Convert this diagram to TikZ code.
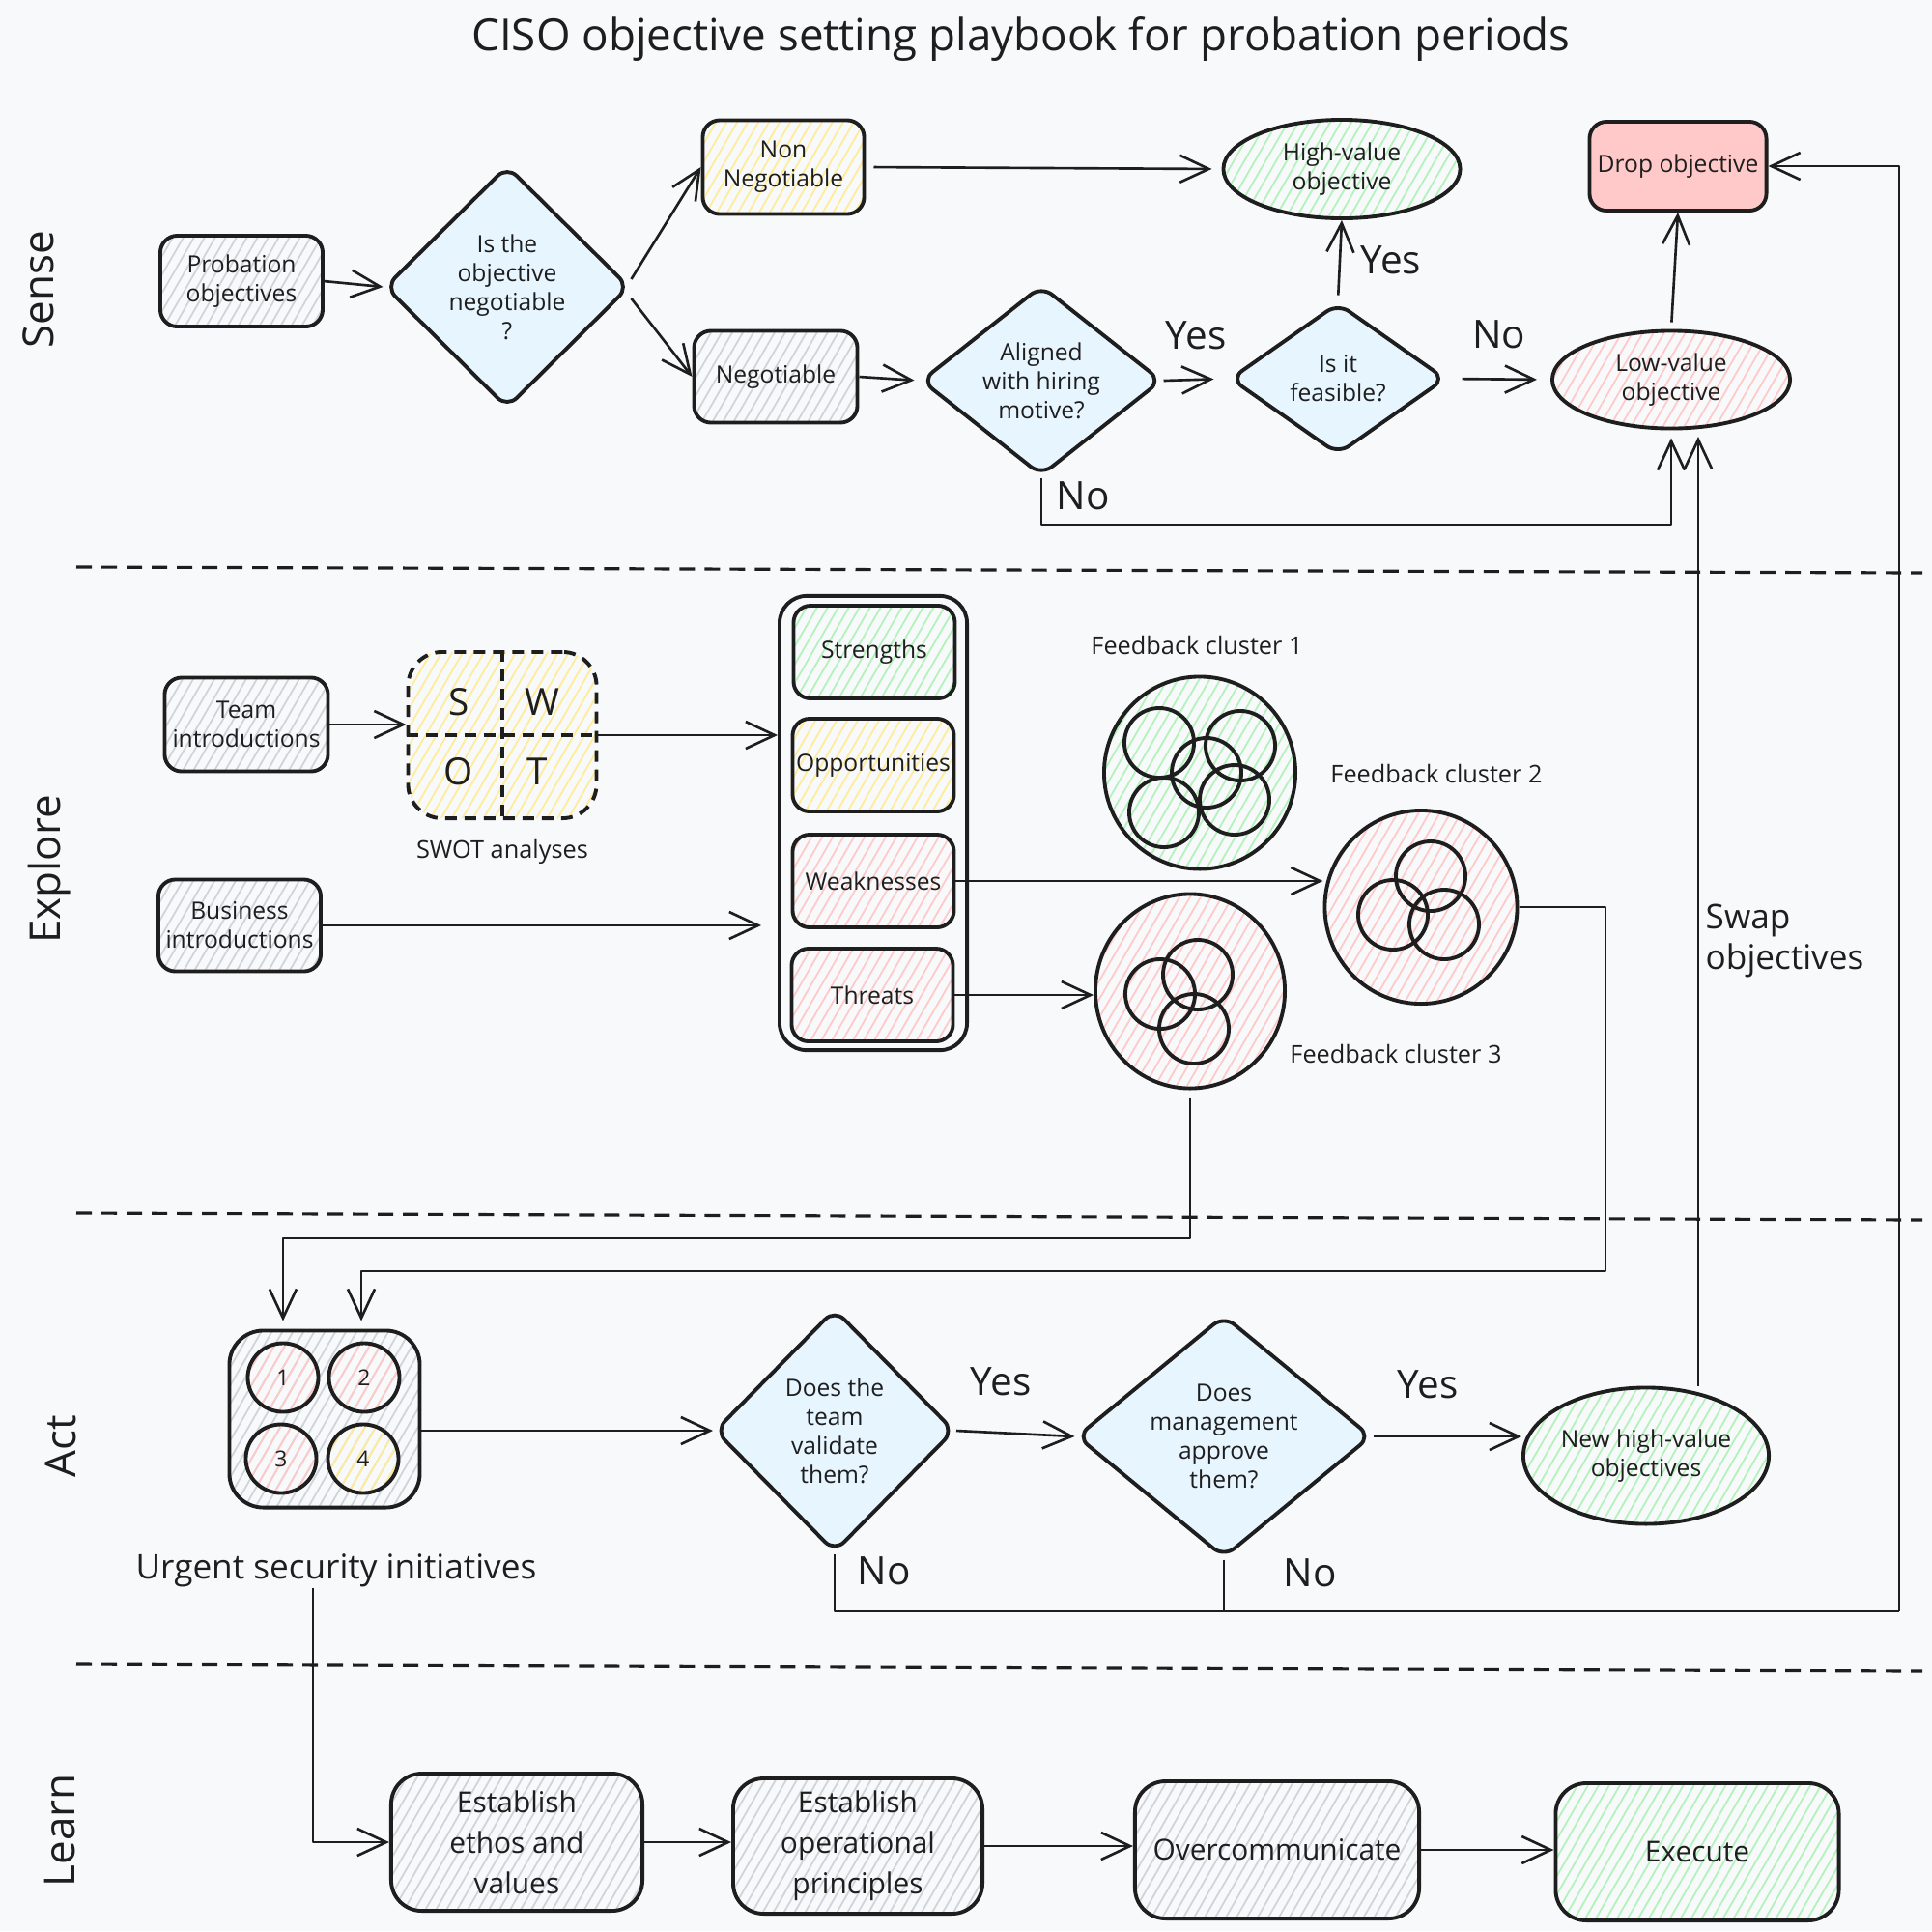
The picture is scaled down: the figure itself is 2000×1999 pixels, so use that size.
\documentclass[tikz,border=0pt]{standalone}
\usepackage{fontspec}
\setmainfont{Open Sans}
\usetikzlibrary{
arrows.meta,
calc,
patterns.meta,
positioning,
shapes.geometric
}
\definecolor{inkc}{HTML}{1E1E1E}
\definecolor{paperc}{HTML}{F8F9FA}
\definecolor{hgray}{HTML}{CED4DA}
\definecolor{hyellow}{HTML}{FFEC99}
\definecolor{hgreen}{HTML}{B2F2BB}
\definecolor{hred}{HTML}{FFC9C9}
\definecolor{qblue}{HTML}{E7F5FF}

\newcommand{\txttitle}{\fontsize{13}{15}\selectfont}
\newcommand{\txtlane}{\fontsize{12.5}{15}\selectfont}
\newcommand{\txtsmall}{\fontsize{7}{8.5}\selectfont}
\newcommand{\txtbig}{\fontsize{8.5}{12}\selectfont}
\newcommand{\txtanswer}{\fontsize{11.5}{14}\selectfont}
\newcommand{\txtlabel}{\fontsize{7.2}{9}\selectfont}
\newcommand{\txtcaption}{\fontsize{10}{12.2}\selectfont}
\newcommand{\txttiny}{\fontsize{6.5}{8}\selectfont}
\newcommand{\txtletter}{\fontsize{11}{13}\selectfont}

\tikzset{>={Straight Barb[length=0.3cm,width=0.28cm]}}
\tikzset{
ink/.style={draw=inkc, line width=1.1pt},
dims/.style 2 args={minimum width=#1cm, minimum height=#2cm},
hatch/.style={pattern={Lines[angle=60,distance=2.7pt,line width=0.5pt]}, pattern color=#1},
box/.style={ink, rectangle, rounded corners=5pt, align=center, inner sep=0pt, font=\txtsmall},
bigbox/.style={box, rounded corners=9pt, font=\txtbig},
question/.style={ink, diamond, fill=qblue, rounded corners=4pt, aspect=1, align=center, inner sep=0pt, font=\txtsmall},
goal/.style={ink, ellipse, align=center, inner sep=0pt, font=\txtsmall},
cluster/.style={ink, ellipse, inner sep=0pt},
blob/.style={ink, circle, inner sep=0pt, minimum size=0.72cm},
initiative/.style={ink, ellipse, inner sep=0pt, minimum width=0.73cm, minimum height=0.71cm, font=\txttiny},
flow/.style={->, draw=inkc, line width=0.75pt},
link/.style={draw=inkc, line width=0.75pt},
lane/.style={draw=inkc, line width=0.9pt, dash pattern=on 0.16cm off 0.1cm},
lanelbl/.style={rotate=90, font=\txtlane, inner sep=0pt},
answer/.style={font=\txtanswer, inner sep=0pt},
lbl/.style={font=\txtlabel, inner sep=0pt}
}

\begin{document}
\begin{tikzpicture}[x=0.01cm, y=-0.01cm, line join=round, every node/.style={text=inkc}]
		\fill[paperc] (0,0) rectangle (2000,1999);
		\node[font=\txttitle, inner sep=0pt] (title) at (1057,40) {CISO objective setting playbook for probation periods};
		
		% lanes
		\foreach \ya/\yb in {587/593, 1256/1263, 1723/1730}
			\draw[lane] (79,\ya) -- (1990,\yb);
		\node[lanelbl] (sense) at (40,300) {Sense};
		\node[lanelbl] (explore) at (51,900) {Explore};
		\node[lanelbl] (act) at (63,1497) {Act};
		\node[lanelbl] (learn) at (62,1895) {Learn};
		
		% sense
		\node[box, hatch=hgray, dims={1.68}{0.94}] (probobj) at (250,291) {Probation\\objectives};
		\node[question, dims={2.53}{2.51}] (negq) at (525,297) {Is the\\objective\\negotiable\\?};
		\node[box, hatch=hyellow, dims={1.67}{0.97}] (nonneg) at (811,173) {Non\\Negotiable};
		\node[box, hatch=hgray, dims={1.69}{0.95}] (neg) at (803,390) {Negotiable};
		\node[goal, hatch=hgreen, dims={2.45}{1.02}] (hv) at (1389,175) {High-value\\objective};
		\node[box, fill=hred, dims={1.83}{0.92}] (drop) at (1737,172) {Drop objective};
		\node[question, aspect=1.27, dims={2.49}{1.97}] (aligned) at (1078,394) {Aligned\\with hiring\\motive?};
		\node[question, aspect=1.43, dims={2.23}{1.57}] (feasible) at (1385,392) {Is it\\feasible?};
		\node[goal, hatch=hred, dims={2.46}{1.01}] (lowval) at (1730,393) {Low-value\\objective};
		
		\draw[flow] (probobj.east) -- (negq.west);
		\draw[flow] ([yshift=0.08cm]negq.east) -- (nonneg.west);
		\draw[flow] ([yshift=-0.12cm]negq.east) -- (neg.west);
		\draw[flow, shorten <=0.08cm, shorten >=0.1cm] (nonneg.east) -- (hv.west);
		\draw[flow, shorten >=0.05cm] (neg.east) -- (aligned.west);
		\draw[flow, shorten >=0.15cm] (aligned.east) -- (feasible.west) node[answer, midway, above=0.3cm] (yesA) {Yes};
		\draw[flow, shorten <=0.06cm] (feasible.north) -- (hv.south) node[answer, midway, right=0.2cm] (yesB) {Yes};
		\draw[flow, shorten <=0.15cm, shorten >=0.14cm] (feasible.east) -- (lowval.west) node[answer, midway, above=0.3cm] (noA) {No};
		\draw[flow, shorten <=0.07cm] (lowval.north) -- (drop.south);
		
		\coordinate (noline) at (1078,543);
		\draw[flow, shorten >=0.08cm] (aligned.south) -- (noline) -| (lowval.south);
		\node[answer] (noB) at (1121,513) {No};
		
		% explore
		\node[box, hatch=hgray, dims={1.69}{0.97}] (teamintro) at (255,750) {Team\\introductions};
		\node[box, hatch=hgray, dims={1.68}{0.95}] (bizintro) at (248,958) {Business\\introductions};
		\node[box, hatch=hyellow, dash pattern=on 0.12cm off 0.08cm, rounded corners=10pt, dims={1.95}{1.72}] (swot) at (520,761) {};
		\draw[ink, dash pattern=on 0.12cm off 0.08cm] (swot.north) -- (swot.south);
		\draw[ink, dash pattern=on 0.12cm off 0.08cm] (swot.west) -- (swot.east);
		\foreach \ltr/\dx/\dy in {S/-45/-34, W/41/-34, O/-45/38, T/36/38}
			\node[font=\txtletter, inner sep=0pt] (swot\ltr) at ([shift={(\dx,\dy)}]swot.center) {\ltr};
		\node[lbl, below=0.2cm of swot] (swotlbl) {SWOT analyses};
		
		\node[ink, rounded corners=8pt, inner sep=0pt, dims={1.94}{4.70}] (swotcol) at (904,852) {};
		\node[box, hatch=hgreen, dims={1.67}{0.96}] (strengths) at (905,675) {Strengths};
		\node[box, hatch=hyellow, dims={1.67}{0.96}] (opps) at (904,792) {Opportunities};
		\node[box, hatch=hred, dims={1.67}{0.96}] (weak) at (904,912) {Weaknesses};
		\node[box, hatch=hred, dims={1.67}{0.96}] (threats) at (903,1030) {Threats};
		
		\node[cluster, hatch=hgreen, dims={1.98}{1.99}] (clusterA) at (1242,800) {};
		\node[cluster, hatch=hred, dims={1.99}{2.00}] (clusterB) at (1471,939) {};
		\node[cluster, hatch=hred, dims={1.96}{2.01}] (clusterC) at (1232,1026) {};
		\foreach \dx/\dy [count=\i] in {-42/-31, 42/-28, 7/0, -37/41, 36/28}
			\node[blob] (clusterA\i) at ([shift={(\dx,\dy)}]clusterA.center) {};
		\foreach \dx/\dy [count=\i] in {10/-32, -29/8, 24/18}
			\node[blob] (clusterB\i) at ([shift={(\dx,\dy)}]clusterB.center) {};
		\foreach \dx/\dy [count=\i] in {8/-17, -31/3, 4/39}
			\node[blob] (clusterC\i) at ([shift={(\dx,\dy)}]clusterC.center) {};
		\node[lbl] (clusterAlbl) at (1239,668) {Feedback cluster 1};
		\node[lbl] (clusterBlbl) at (1487,801) {Feedback cluster 2};
		\node[lbl] (clusterClbl) at (1445,1091) {Feedback cluster 3};
		\node[font=\txtcaption, align=left, anchor=west, inner sep=0pt] (swaplbl) at (1765,974) {Swap\\objectives};
		
		\draw[flow] (teamintro.east) -- (teamintro.east -| swot.west);
		\draw[flow] (swot.east) -- (swot.east -| swotcol.west);
		\draw[flow, shorten >=0.17cm] (bizintro.east) -- (bizintro.east -| swotcol.west);
		\draw[flow] (weak.east) -- (weak.east -| clusterB.west);
		\draw[flow] (threats.east) -- (threats.east -| clusterC.west);
		
		% act
		\node[box, hatch=hgray, rounded corners=10pt, dims={1.97}{1.83}] (urgent) at (336,1469) {};
		\foreach \num/\dx/\dy/\col in {1/-43/-43/hred, 2/41/-43/hred, 3/-45/41/hred, 4/40/41/hyellow}
			\node[initiative, hatch=\col] (urgent\num) at ([shift={(\dx,\dy)}]urgent.center) {\num};
		\node[font=\txtcaption, inner sep=0pt] (urgentlbl) at (348,1626) {Urgent security initiatives};
		\node[question, dims={2.48}{2.52}] (validate) at (864,1481) {Does the\\team\\validate\\them?};
		\node[question, aspect=1.22, dims={3.05}{2.51}] (approve) at (1267,1487) {Does\\management\\approve\\them?};
		\node[goal, hatch=hgreen, dims={2.54}{1.41}] (newhv) at (1704,1507) {New high-value\\objectives};
		
		\coordinate (clusterBturn) at (1662,1316);
		\coordinate (clusterCturn) at (1232,1282);
		\draw[flow, shorten >=0.08cm] (clusterB.east) -| (clusterBturn) -| ([xshift=0.38cm]urgent.north);
		\draw[flow, shorten <=0.08cm, shorten >=0.08cm] (clusterC.south) -- (clusterCturn) -| ([xshift=-0.43cm]urgent.north);
		
		\draw[flow] (urgent.east |- validate.west) -- (validate.west);
		\draw[flow] (validate.east) -- (approve.west);
		\draw[flow] (approve.east) -- (approve.east -| newhv.west);
		\node[answer] (yesC) at (1036,1430) {Yes};
		\node[answer] (yesD) at (1478,1433) {Yes};
		\node[answer] (noC) at (915,1626) {No};
		\node[answer] (noD) at (1356,1628) {No};
		
		% swap and drop feedback
		\coordinate (swaptop) at (1758,452);
		\draw[flow] (newhv.north -| swaptop) -- (swaptop);
		\coordinate (dropback) at (1966,1668);
		\draw[link] (validate.south) |- (dropback);
		\draw[link] (approve.south) -- (approve.south |- dropback);
		\draw[flow] (dropback) |- (drop.east);
		
		% learn
		\node[bigbox, hatch=hgray, dims={2.60}{1.42}] (ethos) at (535,1907) {Establish\\ethos and\\values};
		\node[bigbox, hatch=hgray, dims={2.58}{1.40}] (principles) at (888,1911) {Establish\\operational\\principles};
		\node[bigbox, hatch=hgray, dims={2.94}{1.42}] (overcomm) at (1322,1915) {Overcommunicate};
		\node[bigbox, hatch=hgreen, dims={2.93}{1.42}] (execute) at (1757,1917) {Execute};
		
		\draw[flow] ([xshift=-0.24cm]urgentlbl.south) |- (ethos.west);
		\draw[flow] (ethos.east) -- (ethos.east -| principles.west);
		\draw[flow] (principles.east) -- (principles.east -| overcomm.west);
		\draw[flow] (overcomm.east) -- (overcomm.east -| execute.west);
	\end{tikzpicture}
\end{document}
